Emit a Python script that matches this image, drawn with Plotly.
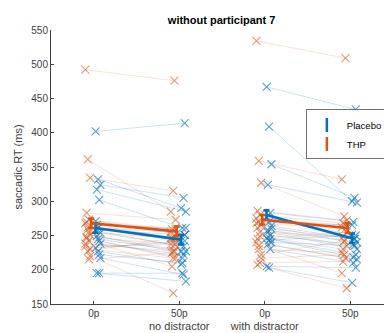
import plotly.graph_objects as go

# ---- data (saccadic RT, ms) ----
conditions = ["0p", "50p", "0p", "50p"]
group_labels = ["no distractor", "with distractor"]

placebo_nd_0 = [402, 332, 324, 317, 302, 271, 261, 254, 249, 242, 232, 227, 217, 195, 195, 258, 245, 238, 265, 222]
placebo_nd_50 = [414, 290, 305, 285, 261, 251, 242, 234, 227, 217, 242, 208, 193, 183, 195, 251, 227, 222, 261, 210]
thp_nd_0 = [492, 361, 334, 283, 273, 268, 259, 251, 246, 242, 234, 227, 220, 270, 255, 238, 262, 230, 248, 215]
thp_nd_50 = [476, 285, 315, 273, 259, 246, 237, 227, 217, 205, 237, 246, 166, 259, 246, 227, 255, 217, 237, 225]
placebo_d_0 = [467, 409, 354, 324, 283, 276, 270, 264, 258, 250, 246, 243, 240, 237, 230, 205, 203, 260, 255, 245]
placebo_d_50 = [434, 300, 305, 298, 270, 250, 265, 245, 240, 237, 222, 251, 235, 215, 210, 203, 181, 245, 230, 218]
thp_d_0 = [534, 359, 327, 286, 280, 275, 270, 265, 261, 249, 240, 235, 217, 207, 255, 268, 230, 222, 245, 210]
thp_d_50 = [509, 332, 278, 272, 268, 265, 262, 242, 235, 230, 217, 195, 222, 173, 248, 260, 225, 242, 255, 212]

placebo_mean = [261, 244, 280, 246]
placebo_sem = [7, 7, 7, 7]
thp_mean = [268, 256, 273, 261]
thp_sem = [7, 7, 7, 7]

# ---- style ----
BLUE = "#0072BD"
ORANGE = "#D95319"
BLUE_LINE = "rgba(0,114,189,0.2)"
ORANGE_LINE = "rgba(217,83,25,0.18)"
BLUE_MK = "rgba(0,114,189,0.65)"
ORANGE_MK = "rgba(217,83,25,0.6)"
FONT = "Liberation Sans, Arial, sans-serif"

fig = go.Figure()

def jit(i, k):
    return (((i * 7 + k * 3) % 5) - 2) * 0.014

pairs = [
    (placebo_nd_0, placebo_nd_50, 1, 0.05, BLUE_LINE, BLUE_MK),
    (thp_nd_0, thp_nd_50, 1, -0.07, ORANGE_LINE, ORANGE_MK),
    (placebo_d_0, placebo_d_50, 3, 0.05, BLUE_LINE, BLUE_MK),
    (thp_d_0, thp_d_50, 3, -0.07, ORANGE_LINE, ORANGE_MK),
]
for a, b, x0, off, lc, mc in pairs:
    for i, (v0, v1) in enumerate(zip(a, b)):
        fig.add_trace(go.Scatter(
            x=[x0 + off + jit(i, 0), x0 + 1 + off + jit(i, 1)], y=[v0, v1],
            mode="lines", line=dict(color=lc, width=1),
            showlegend=False, hoverinfo="skip"))
    xs, ys = [], []
    for i, (v0, v1) in enumerate(zip(a, b)):
        xs += [x0 + off + jit(i, 0), x0 + 1 + off + jit(i, 1)]
        ys += [v0, v1]
    fig.add_trace(go.Scatter(
        x=xs, y=ys, mode="markers",
        marker=dict(symbol="x-thin", size=8, color=mc, line=dict(color=mc, width=1.1)),
        showlegend=False, hoverinfo="skip"))

# means with error bars
for mean, sem, col, off in [(placebo_mean, placebo_sem, BLUE, 0.02), (thp_mean, thp_sem, ORANGE, -0.03)]:
    for seg in (0, 2):
        fig.add_trace(go.Scatter(
            x=[seg + 1 + off, seg + 2 + off], y=mean[seg:seg + 2],
            mode="lines", line=dict(color=col, width=2.6),
            error_y=dict(type="data", array=sem[seg:seg + 2], color=col, thickness=2.5, width=3),
            showlegend=False))

# legend entries
for name, col in [("Placebo", BLUE), ("THP", ORANGE)]:
    fig.add_trace(go.Scatter(
        x=[None], y=[None], mode="markers", name=name,
        marker=dict(symbol="line-ns-open", size=10, color=col, line=dict(color=col, width=2.5))))

ticktext = ["0p",
            "50p<br><span style='font-size:11px'>no distractor</span>",
            "0p<br><span style='font-size:11px'>with distractor</span>",
            "50p"]

fig.update_layout(
    width=392, height=333,
    margin=dict(l=43, r=7, t=22, b=37),
    paper_bgcolor="white", plot_bgcolor="white",
    font=dict(family=FONT, size=10, color="#404040"),
    title=dict(text="<b>without participant 7</b>", x=0.545, xanchor="center",
               y=0.975, yanchor="top", font=dict(size=11, color="#000000")),
    showlegend=True,
    legend=dict(x=0.985, y=0.71, xanchor="right", yanchor="top",
                bgcolor="white", bordercolor="#707070", borderwidth=1,
                font=dict(size=9.5, color="#000000"),
                itemwidth=30, tracegroupgap=0),
    xaxis=dict(range=[0.5, 4.5], tickvals=[1, 2, 3, 4], ticktext=ticktext,
               showgrid=False, zeroline=False, showline=True, linecolor="#404040",
               linewidth=1, ticks="inside", ticklen=3, tickcolor="#404040"),
    yaxis=dict(range=[150, 550], tickvals=list(range(150, 551, 50)),
               showgrid=False, zeroline=False, showline=True, linecolor="#404040",
               linewidth=1, ticks="inside", ticklen=3, tickcolor="#404040",
               title=dict(text="saccadic RT (ms)", standoff=6, font=dict(size=11))),
)

fig.write_html("out.html")
